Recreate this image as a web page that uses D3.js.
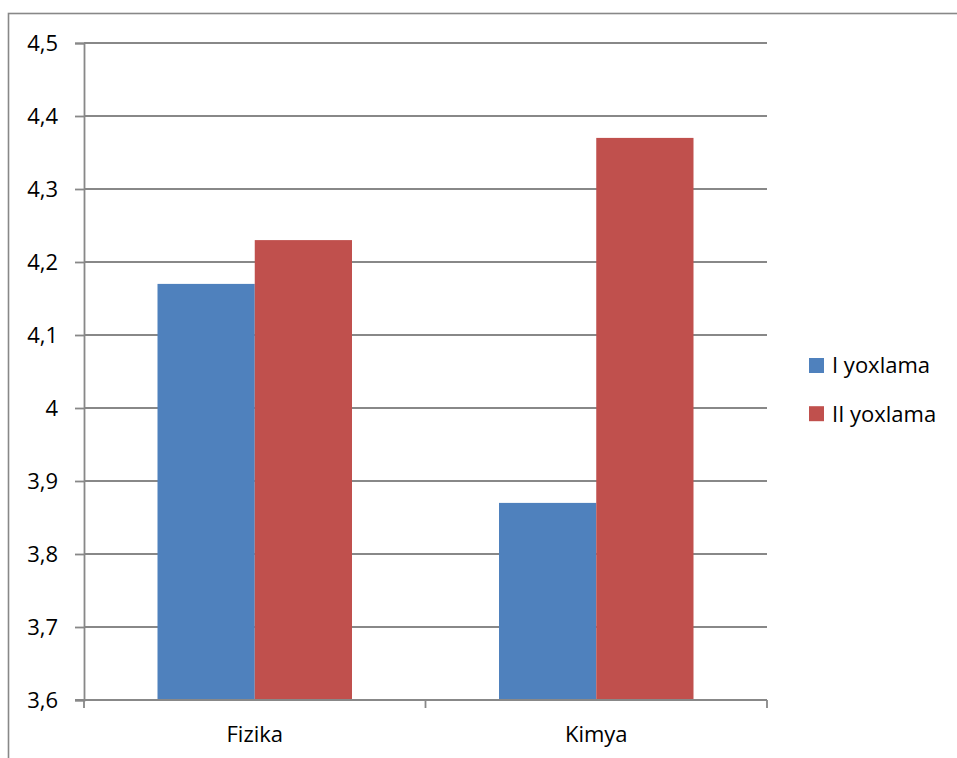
<!DOCTYPE html>
<html>
<head>
<meta charset="utf-8">
<script src="https://cdn.jsdelivr.net/npm/d3@7"></script>
<style>
  html, body { margin: 0; padding: 0; background: #fff; }
  svg { display: block; }
  text { font-family: "Open Sans", "Liberation Sans", sans-serif; fill: #000; }
</style>
</head>
<body>
<svg id="chart" width="957" height="758"></svg>
<script>
const categories = ["Fizika", "Kimya"];
const seriesNames = ["I yoxlama", "II yoxlama"];
const seriesI = [4.17, 3.87];
const seriesII = [4.23, 4.37];
const seriesColors = ["#4F81BD", "#C0504D"];
const yTicks = [3.6, 3.7, 3.8, 3.9, 4.0, 4.1, 4.2, 4.3, 4.4, 4.5];
const yTickLabels = ["3,6", "3,7", "3,8", "3,9", "4", "4,1", "4,2", "4,3", "4,4", "4,5"];

const seriesValues = [seriesI, seriesII];
const svg = d3.select("#chart");
const W = 957, H = 758;
const plot = { left: 84, right: 767, top: 43, bottom: 700 };
const gridColor = "#888888";
const fontSize = 22;

// outer frame (extends past the right and bottom edges)
svg.append("rect")
  .attr("x", 8.5).attr("y", 13.5)
  .attr("width", W + 20).attr("height", H + 20)
  .attr("fill", "none").attr("stroke", gridColor).attr("stroke-width", 1.6);

const y = d3.scaleLinear().domain([3.6, 4.5]).range([plot.bottom, plot.top]);
const x0 = d3.scaleBand().domain(categories).range([plot.left, plot.right]).paddingInner(0).paddingOuter(0);
const gap = 73.5;
const x1 = d3.scaleBand().domain(seriesNames).range([gap, x0.bandwidth() - gap]).padding(0);

// gridlines
svg.append("g").selectAll("line").data(yTicks.filter(t => t > 3.6)).join("line")
  .attr("x1", plot.left).attr("x2", plot.right)
  .attr("y1", d => y(d)).attr("y2", d => y(d))
  .attr("stroke", gridColor).attr("stroke-width", 1.8);

// y axis
const yAxis = d3.axisLeft(y).tickValues(yTicks)
  .tickFormat((d, i) => yTickLabels[i]).tickSize(9).tickPadding(17);
const gy = svg.append("g").attr("transform", `translate(${plot.left},0)`).call(yAxis);
gy.select(".domain").attr("stroke", gridColor).attr("stroke-width", 1.8);
gy.selectAll(".tick line").attr("stroke", gridColor).attr("stroke-width", 1.8);
gy.selectAll(".tick text").style("font-size", fontSize + "px")
  .style("font-family", '"Open Sans", sans-serif').attr("fill", "#000");

// bars
const groups = svg.append("g").selectAll("g").data(categories).join("g")
  .attr("transform", d => `translate(${x0(d)},0)`);
groups.selectAll("rect")
  .data((c, ci) => seriesNames.map((s, si) => ({ s, si, v: seriesValues[si][ci] })))
  .join("rect")
  .attr("x", d => x1(d.s))
  .attr("width", x1.bandwidth())
  .attr("y", d => y(d.v))
  .attr("height", d => y(3.6) - y(d.v))
  .attr("fill", d => seriesColors[d.si]);

// x axis
const xTickPos = d3.scaleLinear().domain([0, categories.length]).range([plot.left, plot.right]);
const gx = svg.append("g");
gx.append("line").attr("x1", plot.left - 9).attr("x2", plot.right)
  .attr("y1", plot.bottom).attr("y2", plot.bottom)
  .attr("stroke", gridColor).attr("stroke-width", 1.8);
gx.selectAll("line.tk").data(d3.range(categories.length + 1)).join("line")
  .attr("class", "tk")
  .attr("x1", d => xTickPos(d)).attr("x2", d => xTickPos(d))
  .attr("y1", plot.bottom).attr("y2", plot.bottom + 8)
  .attr("stroke", gridColor).attr("stroke-width", 1.8);
gx.selectAll("text").data(categories).join("text")
  .attr("x", d => x0(d) + x0.bandwidth() / 2)
  .attr("y", 742)
  .attr("text-anchor", "middle")
  .style("font-size", fontSize + "px")
  .text(d => d);

// legend
const legendRowsY = [365.5, 413.7];
const lg = svg.append("g").selectAll("g").data(seriesNames).join("g")
  .attr("transform", (d, i) => `translate(809,${legendRowsY[i]})`);
lg.append("rect").attr("x", 0).attr("y", -7.5).attr("width", 15).attr("height", 15)
  .attr("fill", (d, i) => seriesColors[i]);
lg.append("text").attr("x", 23).attr("y", 0).attr("dy", "0.36em")
  .style("font-size", fontSize + "px").text(d => d);
</script>
</body>
</html>
